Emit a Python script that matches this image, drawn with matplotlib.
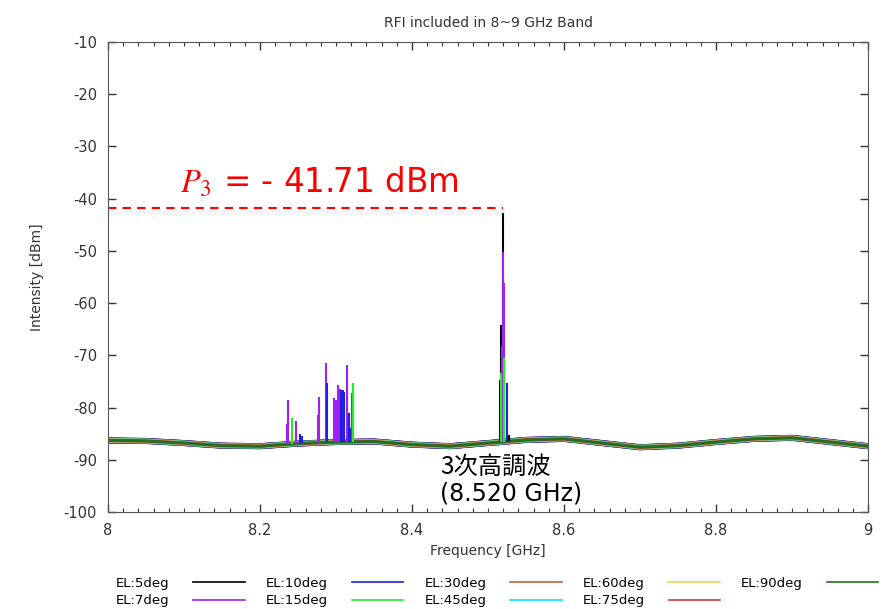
import numpy as np
import matplotlib
matplotlib.use('Agg')
import matplotlib.pyplot as plt
import matplotlib.patheffects as pe
from matplotlib.ticker import MultipleLocator, FuncFormatter

plt.rcParams['axes.unicode_minus'] = False
plt.rcParams['mathtext.fontset'] = 'stix'

# noise floor (GHz, dBm)
floor_f = [8.00, 8.05, 8.10, 8.15, 8.20, 8.25, 8.30, 8.35, 8.40, 8.45, 8.50,
           8.55, 8.60, 8.65, 8.70, 8.75, 8.80, 8.85, 8.90, 8.95, 9.00]
floor_db = [-86.3, -86.4, -86.8, -87.3, -87.4, -86.9, -86.6, -86.5, -87.1, -87.4, -86.8,
            -86.2, -86.0, -86.8, -87.6, -87.3, -86.6, -86.0, -85.8, -86.6, -87.4]

labels = ['EL:5deg', 'EL:7deg', 'EL:10deg', 'EL:15deg', 'EL:30deg',
          'EL:45deg', 'EL:60deg', 'EL:75deg', 'EL:90deg']
colors = ['#000000', '#a020f0', '#2020e0', '#22ee22', '#c0603a',
          '#00e0ff', '#f0d050', '#c83c3c', '#207020']

# spikes per series: frequency [GHz], peak [dBm]
spike_f = {
    'EL:5deg': [8.5201, 8.5167, 8.5158, 8.528, 8.321],
    'EL:7deg': [8.5203, 8.5206, 8.518, 8.2349, 8.2372, 8.247, 8.2763, 8.278,
                8.2864, 8.2978, 8.300, 8.303, 8.305, 8.315, 8.3207],
    'EL:10deg': [8.2526, 8.255, 8.2878, 8.306, 8.3096, 8.311, 8.317, 8.319, 8.5246],
    'EL:15deg': [8.2417, 8.3228, 8.5214, 8.517, 8.5165],
}
spike_db = {
    'EL:5deg': [-42.8, -64.2, -74.7, -85.3, -79.0],
    'EL:7deg': [-50.2, -56.2, -68.3, -83.2, -78.6, -82.6, -81.4, -77.9,
                -71.5, -78.2, -78.5, -75.7, -76.5, -71.9, -77.2],
    'EL:10deg': [-85.0, -85.5, -75.3, -76.6, -76.6, -77.0, -81.0, -84.0, -75.3],
    'EL:15deg': [-82.0, -75.3, -70.5, -73.4, -80.0],
}

p3_db = -41.71
p3_f = 8.520

fig = plt.figure(figsize=(8.89, 6.09), dpi=100)
ax = fig.add_axes([0.1215, 0.1593, 0.855, 0.7717])

widths = [4.4, 4.2, 4.0, 3.7, 3.4, 3.1, 2.8, 2.4, 2.0]
for lab, c, w in zip(labels, colors, widths):
    ax.plot(floor_f, floor_db, color=c, lw=w, label=lab)

for lab, c in zip(labels, colors):
    if lab in spike_f:
        f = np.array(spike_f[lab])
        base = np.interp(f, floor_f, floor_db)
        ax.vlines(f, base, spike_db[lab], color=c, lw=1.5)

# legend: label on the left, line on the right
handles = [plt.Line2D([], [], color=c, lw=1.2) for c in colors]
leg = ax.legend(handles, labels, loc='upper center', bbox_to_anchor=(0.512, -0.124),
                ncol=5, frameon=False, fontsize=9.5, borderpad=0,
                handlelength=3.9, columnspacing=1.6, handletextpad=1.8,
                labelspacing=0.35)
for col in leg._legend_box.get_children()[1].get_children():
    for row in col.get_children():
        row.get_children().reverse()

# faint shadow under the dashed line, then the dashed line
ax.plot([8.0, p3_f], [p3_db, p3_db], color='gray', lw=0,
        path_effects=[pe.SimpleLineShadow(offset=(0, -3), shadow_color='gray',
                                          alpha=0.07, linewidth=4)])
ax.plot([8.0, p3_f], [p3_db, p3_db], color='red', lw=1.5, ls=(0, (4, 3)))
ax.text(8.095, -36.8, r'$P_3$ = - 41.71 dBm', color='red', fontsize=23.5,
        ha='left', va='center')
ax.text(8.437, -91.4, '3次高調波', fontsize=17.5, ha='left', va='center',
        family=['Noto Sans CJK JP', 'DejaVu Sans'])
ax.text(8.437, -96.4, '(8.520 GHz)', fontsize=17, ha='left', va='center',
        family=['DejaVu Sans'])

ax.set_xlim(8, 9)
ax.set_ylim(-100, -10)
ax.xaxis.set_major_locator(MultipleLocator(0.2))
ax.xaxis.set_minor_locator(MultipleLocator(0.02))
ax.yaxis.set_major_locator(MultipleLocator(10))
ax.xaxis.set_major_formatter(FuncFormatter(lambda v, p: '%g' % round(v, 2)))
ax.tick_params(direction='in', top=True, right=True, labelsize=10.5,
               length=6, width=1, colors='#333333', pad=8)
ax.tick_params(which='minor', direction='in', top=True, length=3, width=0.8,
               colors='#333333')
for s in ax.spines.values():
    s.set_color('#555555')

ax.set_title('RFI included in 8~9 GHz Band', fontsize=10, color='#333333', pad=11)
ax.set_xlabel('Frequency [GHz]', fontsize=10, color='#333333', labelpad=4)
ax.set_ylabel('Intensity [dBm]', fontsize=10, color='#333333', labelpad=14)

fig.savefig('out.png', dpi=100)
